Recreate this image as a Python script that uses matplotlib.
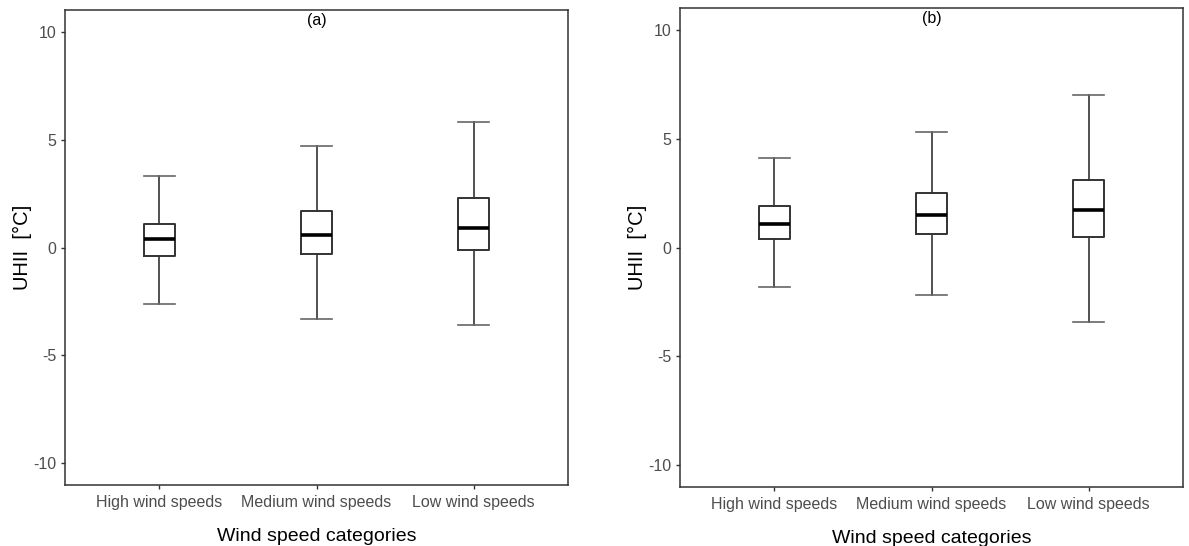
import matplotlib
matplotlib.use("Agg")
import matplotlib.pyplot as plt

plt.rcParams['font.family'] = ['Liberation Sans', 'DejaVu Sans']

categories = ['High wind speeds', 'Medium wind speeds', 'Low wind speeds']

# panel (a)
a_low = [-2.6, -3.3, -3.6]
a_q1 = [-0.4, -0.3, -0.1]
a_med = [0.4, 0.6, 0.9]
a_q3 = [1.1, 1.7, 2.3]
a_high = [3.3, 4.7, 5.8]

# panel (b)
b_low = [-1.8, -2.2, -3.4]
b_q1 = [0.4, 0.6, 0.5]
b_med = [1.1, 1.5, 1.7]
b_q3 = [1.9, 2.5, 3.1]
b_high = [4.1, 5.3, 7.0]

yticks = [-10, -5, 0, 5, 10]


def make_stats(lo, q1, med, q3, hi):
    out = []
    for i in range(len(categories)):
        out.append(dict(whislo=lo[i], q1=q1[i], med=med[i], q3=q3[i], whishi=hi[i], fliers=[]))
    return out


fig = plt.figure(figsize=(11.89, 5.46), dpi=100)
ax1 = fig.add_axes([65 / 1189, 1 - 485 / 546, 503 / 1189, 475 / 546])
ax2 = fig.add_axes([680 / 1189, 1 - 487 / 546, 503 / 1189, 479 / 546])

panels = [(ax1, make_stats(a_low, a_q1, a_med, a_q3, a_high), '(a)'),
          (ax2, make_stats(b_low, b_q1, b_med, b_q3, b_high), '(b)')]

for ax, stats, tag in panels:
    ax.bxp(stats, positions=[1, 2, 3], widths=0.2, showfliers=False,
           boxprops=dict(color='#333333', linewidth=1.4),
           whiskerprops=dict(color='#333333', linewidth=1.2),
           capprops=dict(color='#666666', linewidth=1.2),
           medianprops=dict(color='black', linewidth=2.6),
           capwidths=0.2)
    ax.set_xlim(0.4, 3.6)
    ax.set_ylim(-11, 11)
    ax.set_yticks(yticks)
    ax.set_yticklabels([str(v) for v in yticks])
    ax.set_xticks([1, 2, 3])
    ax.set_xticklabels(categories)
    ax.tick_params(axis='both', labelsize=11.5, labelcolor='#4d4d4d', color='#333333',
                   length=3, width=1, pad=3)
    ax.tick_params(axis='x', pad=4)
    for s in ax.spines.values():
        s.set_color('#333333')
        s.set_linewidth(1.1)
    ax.set_ylabel('UHII  [°C]', fontsize=14.5, labelpad=1)
    ax.set_xlabel('Wind speed categories', fontsize=14, labelpad=13)
    ax.text(0.5, 0.993, tag, transform=ax.transAxes, ha='center', va='top', fontsize=11.5)

fig.savefig('out.png', dpi=100)
